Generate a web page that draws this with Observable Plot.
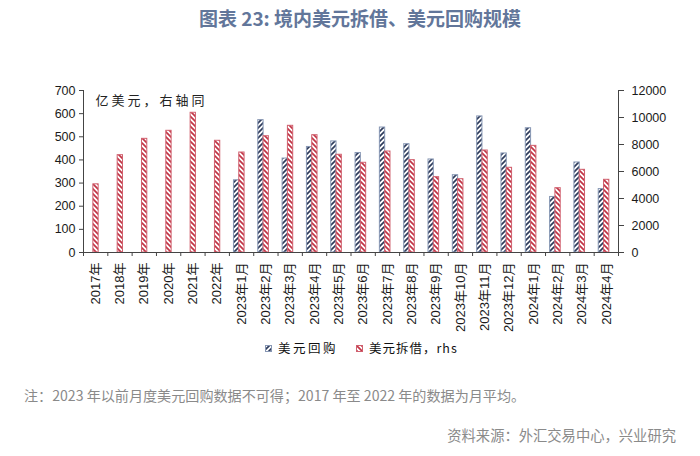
<!DOCTYPE html>
<html><head><meta charset="utf-8">
<script src="https://cdn.jsdelivr.net/npm/d3@7"></script>
<script src="https://cdn.jsdelivr.net/npm/@observablehq/plot@0.6"></script>
<style>
body{margin:0;background:#fff;}
#wrap{position:relative;width:700px;height:456px;overflow:hidden;font-family:"Noto Sans CJK SC",sans-serif;background:#fff;}
#title{position:absolute;top:5px;left:20px;width:680px;text-align:center;font-size:19px;font-weight:bold;color:#62769a;line-height:26px;}
#chart{position:absolute;top:36px;left:0;}
#legend{position:absolute;top:339px;left:265px;height:18px;line-height:18px;font-size:12.5px;color:#111;display:flex;align-items:center;white-space:nowrap;}
#legend .sw{display:inline-block;width:7px;height:7px;margin-right:6px;}
#note{position:absolute;left:24px;top:385px;font-size:14.1px;color:#8a8a8a;line-height:20px;white-space:nowrap;}
#source{position:absolute;right:24px;top:425px;font-size:14.3px;color:#8a8a8a;line-height:20px;white-space:nowrap;}
</style></head>
<body>
<div id="wrap">
  <div id="title">图表 23: 境内美元拆借、美元回购规模</div>
  <div id="chart"></div>
  <div id="legend"></div>
  <div id="note">注：2023 年以前月度美元回购数据不可得；2017 年至 2022 年的数据为月平均。</div>
  <div id="source">资料来源：外汇交易中心，兴业研究</div>
</div>
<script>
const categories = ["2017年","2018年","2019年","2020年","2021年","2022年",
  "2023年1月","2023年2月","2023年3月","2023年4月","2023年5月","2023年6月",
  "2023年7月","2023年8月","2023年9月","2023年10月","2023年11月","2023年12月",
  "2024年1月","2024年2月","2024年3月","2024年4月"];
// 美元回购 (left axis, 亿美元)
const repo = [null,null,null,null,null,null,
  312,572,406,456,480,430,540,468,402,334,588,428,537,240,389,274];
// 美元拆借 (right axis, 亿美元)
const lending = [5050,7210,8420,9015,10350,8275,
  7407,8615,9385,8690,7240,6645,7480,6840,5580,5430,7555,6275,7900,4765,6125,5385];
const leftTicks = [0,100,200,300,400,500,600,700];
const rightTicks = [0,2000,4000,6000,8000,10000,12000];
const leftMax = 700, rightMax = 12000;
const seriesNames = ["美元回购","美元拆借，rhs"];
const annotation = "亿美元，右轴同";

const W = 700, H = 304, mL = 83, mR = 82, mT = 54, mB = 88;
const bw = (W - mL - mR) / categories.length;
const half = bw / 2;
const barW = 5.3;

const repoData = categories.map((c,i)=>({c, v: repo[i]})).filter(d=>d.v!=null);
const lendData = categories.map((c,i)=>({c, v: lending[i] * leftMax / rightMax}));

const blueInsetL = half - 7.6, blueInsetR = bw - blueInsetL - barW;
const redInsetL = half - 2.3, redInsetR = bw - redInsetL - barW;

const axisColor = "#444";
const chart = Plot.plot({
  width: W, height: H, marginLeft: mL, marginRight: mR, marginTop: mT, marginBottom: mB,
  x: {domain: categories, padding: 0, round: false, label: null},
  y: {domain: [0, leftMax], label: null},
  style: {fontFamily: '"Liberation Sans","Noto Sans CJK SC",sans-serif', fontSize: "12.5px", color: "#1a1a1a", background: "white", overflow: "visible"},
  marks: [
    Plot.barY(repoData, {x: "c", y: "v", fill: "url(#hatchBlue)", stroke: "#8797b4", strokeWidth: 1, insetLeft: blueInsetL, insetRight: blueInsetR}),
    Plot.barY(lendData, {x: "c", y: "v", fill: "url(#hatchRed)", stroke: "#d0606e", strokeWidth: 1, insetLeft: redInsetL, insetRight: redInsetR}),
    Plot.ruleY([0], {stroke: axisColor}),
    Plot.ruleX([categories[0]], {dx: -half, stroke: axisColor}),
    Plot.ruleX([categories[categories.length-1]], {dx: half, stroke: axisColor}),
    Plot.axisY(leftTicks, {anchor: "left", tickSize: 4, tickPadding: 4, stroke: axisColor, fontSize: 12.5}),
    Plot.axisY(rightTicks.map(v => v * leftMax / rightMax), {anchor: "right", tickSize: 5, tickPadding: 8, stroke: axisColor, fontSize: 12.5,
      tickFormat: d => String(Math.round(d * rightMax / leftMax))}),
    Plot.axisX(categories, {anchor: "bottom", tickSize: 4, dx: -half, tickFormat: () => "", stroke: axisColor}),
    Plot.axisX([categories[categories.length-1]], {anchor: "bottom", tickSize: 4, dx: half, tickFormat: () => "", stroke: axisColor}),
    Plot.axisX(categories, {anchor: "bottom", tickSize: 0, tickPadding: 10, tickRotate: -90, fontSize: 13}),
    Plot.text([annotation], {frameAnchor: "top-left", dx: 12, dy: 5, textAnchor: "start", lineAnchor: "top", fontSize: 13, fontFamily: "Noto Sans CJK SC", fill: "#222"})
  ]
});

const defs = d3.select(chart).insert("defs", ":first-child");
function hatch(id, color, d) {
  const p = defs.append("pattern").attr("id", id).attr("patternUnits", "userSpaceOnUse").attr("width", 5).attr("height", 5);
  p.append("rect").attr("width", 5).attr("height", 5).attr("fill", "white");
  p.append("path").attr("d", d).attr("stroke", color).attr("stroke-width", 1.7).attr("fill", "none");
}
hatch("hatchBlue", "#2f3c5c", "M-1,1 L1,-1 M0,5 L5,0 M4,6 L6,4");
hatch("hatchRed", "#c23446", "M-1,4 L1,6 M0,0 L5,5 M4,-1 L6,1");
d3.select(chart).selectAll("text").filter(function(){ return this.textContent === annotation; }).attr("letter-spacing", "3px");
document.getElementById("chart").appendChild(chart);

const legend = document.getElementById("legend");
const sw = ["hatchBlue","hatchRed"], swStroke = ["#8797b4","#d0606e"];
seriesNames.forEach((name, i) => {
  const item = document.createElement("span");
  item.style.display = "inline-flex"; item.style.alignItems = "center";
  item.style.marginRight = i === 0 ? "18px" : "0";
  item.innerHTML = `<svg class="sw" width="7" height="7"><rect x="0.5" y="0.5" width="6" height="6" fill="url(#${sw[i]})" stroke="${swStroke[i]}"/></svg>`;
  const t = document.createElement("span");
  t.textContent = name;
  t.style.letterSpacing = i === 0 ? "2.5px" : "1px";
  item.appendChild(t);
  legend.appendChild(item);
});
</script>
</body></html>
